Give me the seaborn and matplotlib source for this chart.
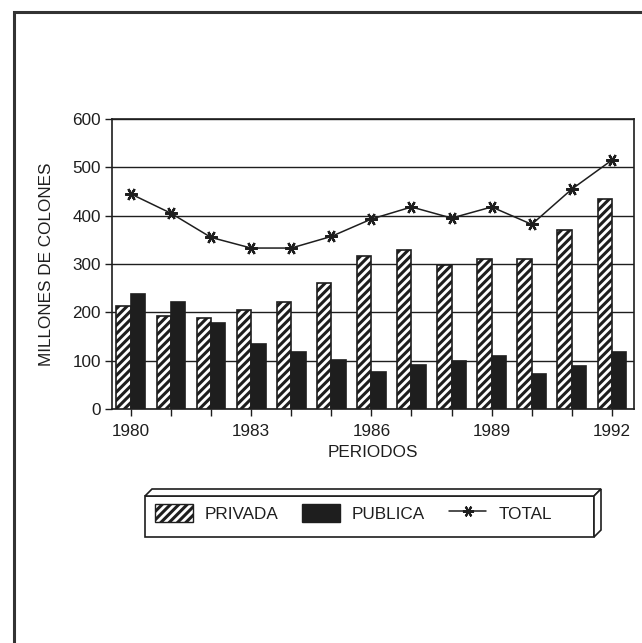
import numpy as np
import pandas as pd
import seaborn as sns
import matplotlib
matplotlib.use("Agg")
import matplotlib.pyplot as plt
from matplotlib.patches import Patch, Polygon, Rectangle
from matplotlib.lines import Line2D

# datos (millones de colones)
anios = list(range(1980, 1993))
privada = [213, 192, 188, 205, 222, 260, 317, 330, 297, 310, 310, 370, 435]
publica = [238, 222, 177, 135, 117, 102, 77, 92, 100, 110, 73, 88, 118]
total = [445, 405, 355, 333, 333, 357, 393, 418, 395, 418, 382, 455, 515]
etiquetas_x = ["1980", "", "", "1983", "", "", "1986", "", "", "1989", "", "", "1992"]

sns.set_style("white")
plt.rcParams["font.family"] = ["Liberation Sans", "DejaVu Sans"]
plt.rcParams["hatch.linewidth"] = 2.2
ink = "#1e1e1e"
fs = 12.3

df = pd.DataFrame({"anio": anios * 2,
                   "valor": privada + publica,
                   "tipo": ["PRIVADA"] * len(anios) + ["PUBLICA"] * len(anios)})

fig = plt.figure(figsize=(6.42, 6.43), dpi=100)
W, H = 642, 643
ax = fig.add_axes([112 / W, 1 - 409 / H, 522 / W, 290 / H])

sns.barplot(data=df, x="anio", y="valor", hue="tipo", ax=ax,
            palette={"PRIVADA": "white", "PUBLICA": ink},
            width=0.72, gap=0, edgecolor=ink, linewidth=1.2,
            legend=False, zorder=3)
n = len(anios)
for b in ax.patches[:n]:
    b.set_hatch("////")
    b.set_edgecolor(ink)

pos = np.arange(n)
ax.plot(pos, total, color=ink, lw=1.1, marker=(6, 2, 90), ms=9,
        mew=1.6, zorder=4)

ax.set_ylim(0, 600)
ax.set_xlim(-0.47, 12.55)
ax.set_yticks(range(0, 601, 100))
ax.set_xticks(pos)
ax.set_xticklabels(etiquetas_x)
ax.yaxis.grid(True, color=ink, lw=1.0, zorder=0)
ax.set_axisbelow(True)
for s in ax.spines.values():
    s.set_color(ink)
    s.set_linewidth(1.2)
ax.tick_params(axis="both", direction="out", length=5, width=1, colors=ink,
               labelsize=fs, bottom=True, left=True)
ax.tick_params(axis="x", pad=6)
ax.tick_params(axis="y", pad=3)
ax.set_xlabel("PERIODOS", fontsize=fs, color=ink, labelpad=4)
ax.set_ylabel("MILLONES DE COLONES", fontsize=fs, color=ink, labelpad=13)

# leyenda dentro de una caja con relieve
bx0, bx1 = 145 / W, 594 / W
by0, by1 = 1 - 537 / H, 1 - 496 / H
dx, dy = 7 / W, 7 / H
kw = dict(closed=True, fc="white", ec=ink, lw=1.2, transform=fig.transFigure)
fig.add_artist(Polygon([(bx0, by0), (bx0, by1), (bx1, by1), (bx1, by0)], **kw))
fig.add_artist(Polygon([(bx0, by1), (bx0 + dx, by1 + dy), (bx1 + dx, by1 + dy),
                        (bx1, by1)], **kw))
fig.add_artist(Polygon([(bx1, by1), (bx1 + dx, by1 + dy), (bx1 + dx, by0 + dy),
                        (bx1, by0)], **kw))

handles = [Patch(facecolor="white", edgecolor=ink, hatch="////", label="PRIVADA"),
           Patch(facecolor=ink, edgecolor=ink, label="PUBLICA"),
           Line2D([], [], color=ink, lw=1.1, marker=(6, 2, 90), ms=8, mew=1.5,
                  label="TOTAL")]
leg = fig.legend(handles=handles, loc="center left",
                 bbox_to_anchor=(155 / W, 1 - 513 / H),
                 ncol=3, frameon=False, fontsize=fs,
                 handlelength=2.2, handleheight=1.2, columnspacing=1.4,
                 borderpad=0, handletextpad=0.7, borderaxespad=0)
for t in leg.get_texts():
    t.set_color(ink)

# marco exterior
fig.add_artist(Rectangle((14 / W, -0.05), 1.1, 1 - 12 / H + 0.05, fill=False,
                         ec="#333333", lw=2.2, transform=fig.transFigure))

fig.savefig("out.png", dpi=100)
